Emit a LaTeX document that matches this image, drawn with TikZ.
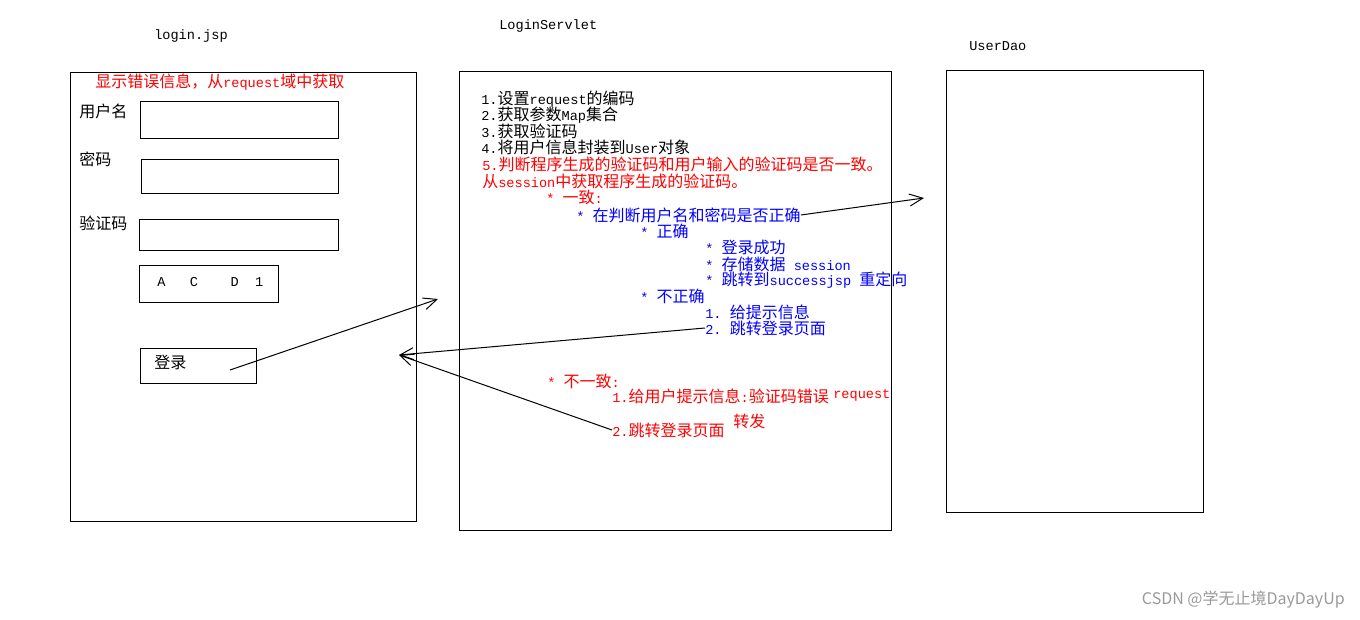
\documentclass[tikz,border=0pt]{standalone}
\usepackage{fontspec}
\setmainfont{Noto Sans CJK SC}
\newfontfamily\mono{Liberation Mono}[Scale=0.85]
\usetikzlibrary{arrows.meta}
\newcommand{\lat}[1]{{\mono #1}}

\begin{document}
\begin{tikzpicture}[
        x=0.75pt, y=-0.75pt,
        panel/.style={draw, line width=0.75pt, inner sep=0, anchor=north west},
        txt/.style={anchor=west, inner sep=0, font=\fontsize{12}{14}\selectfont},
        title/.style={txt, font=\mono\fontsize{12}{14}\selectfont},
        note/.style={txt, red},
        flow/.style={txt, blue},
        arrow/.style={-{Straight Barb[length=10pt, width=9pt]}, line width=0.75pt}
    ]
        \useasboundingbox (0,0) rectangle (1360,620);

        % Titles
        \node[title] (tjsp) at (154,36) {login.jsp};
        \node[title] (tsrv) at (499,26) {LoginServlet};
        \node[title] (tdao) at (969,46) {UserDao};

        % Panels
        \node[panel, minimum width=346*0.75pt, minimum height=449*0.75pt] (jsp) at (70,72) {};
        \node[panel, minimum width=432*0.75pt, minimum height=459*0.75pt] (srv) at (459,71) {};
        \node[panel, minimum width=257*0.75pt, minimum height=442*0.75pt] (dao) at (946,70) {};

        % login.jsp form
        \node[note] (err) at (95,82) {显示错误信息，从\lat{request}域中获取};
        \node[txt] (luser) at (79,111) {用户名};
        \node[panel, minimum width=198*0.75pt, minimum height=37*0.75pt] (fuser) at (140,101) {};
        \node[txt] (lpwd) at (79,159) {密码};
        \node[panel, minimum width=197*0.75pt, minimum height=34*0.75pt] (fpwd) at (141,159) {};
        \node[txt] (lcode) at (79,223) {验证码};
        \node[panel, minimum width=199*0.75pt, minimum height=31*0.75pt] (fcode) at (139,219) {};
        \node[panel, minimum width=139*0.75pt, minimum height=37*0.75pt] (img) at (139,265) {};
        \node[txt, font=\mono\fontsize{12}{14}\selectfont] (imgtxt) at (157,282) {A~~~C~~~~D~~1};
        \node[panel, minimum width=116*0.75pt, minimum height=35*0.75pt] (btn) at (140,348) {};
        \node[txt] (btntxt) at (154,362) {登录};
        \coordinate (btnfrom) at (230,370);
        \coordinate (srvin) at (438,299);
        \coordinate (jspin) at (399,355);
        \coordinate (daoin) at (924,198);

        % LoginServlet steps
        \node[txt] (s1) at (481,99) {\lat{1.}设置\lat{request}的编码};
        \node[txt] (s2) at (481,115) {\lat{2.}获取参数\lat{Map}集合};
        \node[txt] (s3) at (481,131) {\lat{3.}获取验证码};
        \node[txt] (s4) at (481,147) {\lat{4.}将用户信息封装到\lat{User}对象};
        \node[note] (s5) at (482,164) {\lat{5.}判断程序生成的验证码和用户输入的验证码是否一致。};
        \node[note] (s5b) at (482,181) {从\lat{session}中获取程序生成的验证码。};
        \node[note] (same) at (546,197) {\lat{*~}一致\lat{:}};
        \node[flow] (check) at (576,215) {\lat{*~}在判断用户名和密码是否正确};
        \node[flow] (ok) at (640,231) {\lat{*~}正确};
        \node[flow] (ok1) at (705,247) {\lat{*~}登录成功};
        \node[flow] (ok2) at (705,264) {\lat{*~}存储数据\lat{~session}};
        \node[flow] (ok3) at (705,280) {\lat{*~}跳转到\lat{successjsp~}重定向};
        \node[flow] (bad) at (640,296) {\lat{*~}不正确};
        \node[flow] (bad1) at (705,312) {\lat{1.~}给提示信息};
        \node[flow] (bad2) at (705,328) {\lat{2.~}跳转登录页面};
        \node[note] (diff) at (547,381) {\lat{*~}不一致\lat{:}};
        \node[note] (diff1) at (612,396) {\lat{1.}给用户提示信息\lat{:}验证码错误};
        \node[note, font=\mono\fontsize{12}{14}\selectfont] (req) at (833,395) {request};
        \node[note] (diff2) at (612,430) {\lat{2.}跳转登录页面};
        \node[note] (fwd) at (733,421) {转发};

        % Requests
        \draw[arrow] (btnfrom) -- (srvin);
        \draw[arrow] (check.east) -- (daoin);
        \draw[arrow] (bad2.west) -- (jspin);
        \draw[arrow] (diff2.west) -- (jspin);

        \node[anchor=east, inner sep=0, gray!80, font=\fontsize{12}{14}\selectfont] (mark) at (1345,600) {CSDN @学无止境DayDayUp};
    \end{tikzpicture}
\end{document}
